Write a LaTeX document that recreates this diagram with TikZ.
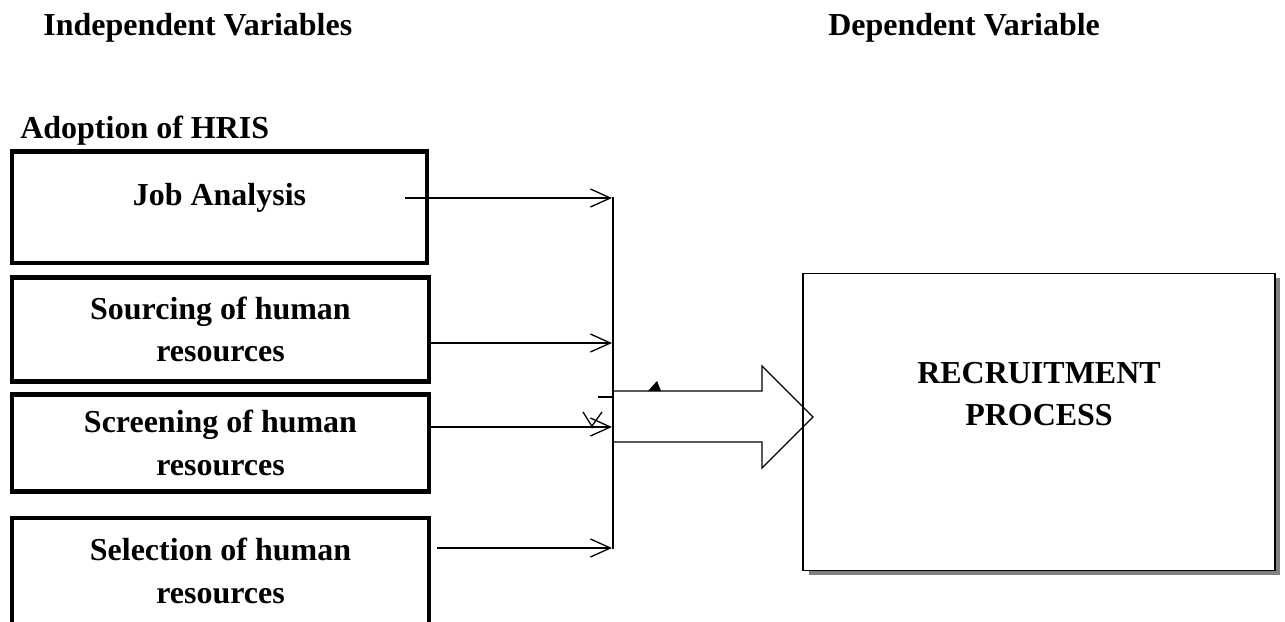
\documentclass[tikz,border=0pt]{standalone}
\usepackage{fontspec}
\setmainfont{Liberation Serif}
\usetikzlibrary{arrows.meta, shadows}

\begin{document}
\begin{tikzpicture}[x = 0.02cm, y = -0.02cm,
                txt/.style = {font=\fontsize{18.2}{24}\selectfont\bfseries, inner sep=0},
                var/.style = {txt, draw, line width=2.3pt, align=center, minimum width=8.34cm},
                dep/.style = {txt, draw, line width=0.75pt, align=center, fill=white,
                        drop shadow={shadow xshift=0.11cm, shadow yshift=-0.08cm, fill=gray, opacity=1}},
                thin/.style = {line width=0.75pt},
                arr/.style = {thin, -{Straight Barb[length=0.4cm, width=0.36cm]}}]
                \useasboundingbox (0, 0) rectangle (1285, 622);

                \node[txt, anchor=base west] at (43, 35) (IV) {Independent Variables};
                \node[txt, anchor=base west] at (828, 35) (DV) {Dependent Variable};
                \node[txt, anchor=base west] at (20, 138) (AH) {Adoption of HRIS};

                \node[var, minimum width=8.3cm, minimum height=2.23cm] at (219.5, 207.25) (JA) {Job Analysis\\[-8.9pt]\mbox{}};
                \node[var, minimum height=2.08cm] at (220.5, 329.5) (SO) {Sourcing of human\\resources};
                \node[var, minimum height=1.94cm] at (220.5, 443) (SC) {Screening of human\\resources};
                \node[var, minimum height=2.12cm] at (220.5, 571) (SE) {Selection of human\\resources};

                \node[dep, minimum width=9.44cm, minimum height=5.94cm] at (1039, 422.3) (RP) {RECRUITMENT\\PROCESS\\[8.3pt]\mbox{}};

                \coordinate (J1) at (405, 198);
                \coordinate (S4) at (437, 548);
                \coordinate (B1) at (612, 198);
                \coordinate (B2) at (612, 343);
                \coordinate (B3) at (612, 427);
                \coordinate (B4) at (612, 548);
                \coordinate (top) at (613, 197);
                \coordinate (bot) at (613, 549);
        
                \draw[arr] (J1) -- (B1);
                \draw[arr] (SO.east |- B2) -- (B2);
                \draw[arr] (SC.east |- B3) -- (B3);
                \draw[arr] (S4) -- (B4);
                \draw[thin] (top) -- (bot);
                \draw[thin] (598, 397) -- (613, 397);

                \draw[thin] (613, 391) -- (762, 391) -- (762, 366) -- (813, 417)
                        -- (762, 468) -- (762, 442) -- (613, 442);
                \fill (648, 391) -- (657, 381) -- (661, 391) -- cycle;
                \draw[thin] (583, 412) -- (593, 428);
                \draw[thin] (602, 412) -- (592, 426);
            \end{tikzpicture}
\end{document}
